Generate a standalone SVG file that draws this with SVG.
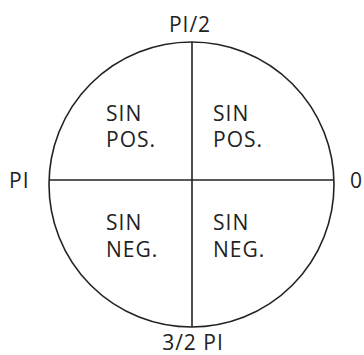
<svg xmlns="http://www.w3.org/2000/svg" width="364" height="355" viewBox="0 0 364 355">
<style>
text{font-family:"Open Sans","Liberation Sans",sans-serif;font-size:21px;fill:#222;letter-spacing:1px}
.ln{stroke:#222;fill:none;stroke-width:1.6}
</style>
<rect width="364" height="355" fill="#fff"/>
<g id="circle"><circle class="ln" cx="191.5" cy="184.5" r="142.5"/></g>
<g id="connectors">
<line class="ln" x1="192" y1="42" x2="192" y2="327"/>
<line class="ln" x1="49" y1="180" x2="334" y2="180"/>
</g>
<g id="labels">
<text x="190" y="32" text-anchor="middle">PI/2</text>
<text x="9" y="188">PI</text>
<text x="350" y="188">0</text>
<text x="193" y="350" font-size="20" text-anchor="middle">3/2 PI</text>
</g>
<g id="q2"><text x="106" y="121">SIN</text><text x="106" y="147">POS.</text></g>
<g id="q1"><text x="213" y="121">SIN</text><text x="213" y="147">POS.</text></g>
<g id="q3"><text x="106" y="230">SIN</text><text x="106" y="257">NEG.</text></g>
<g id="q4"><text x="213" y="230">SIN</text><text x="213" y="257">NEG.</text></g>
</svg>
